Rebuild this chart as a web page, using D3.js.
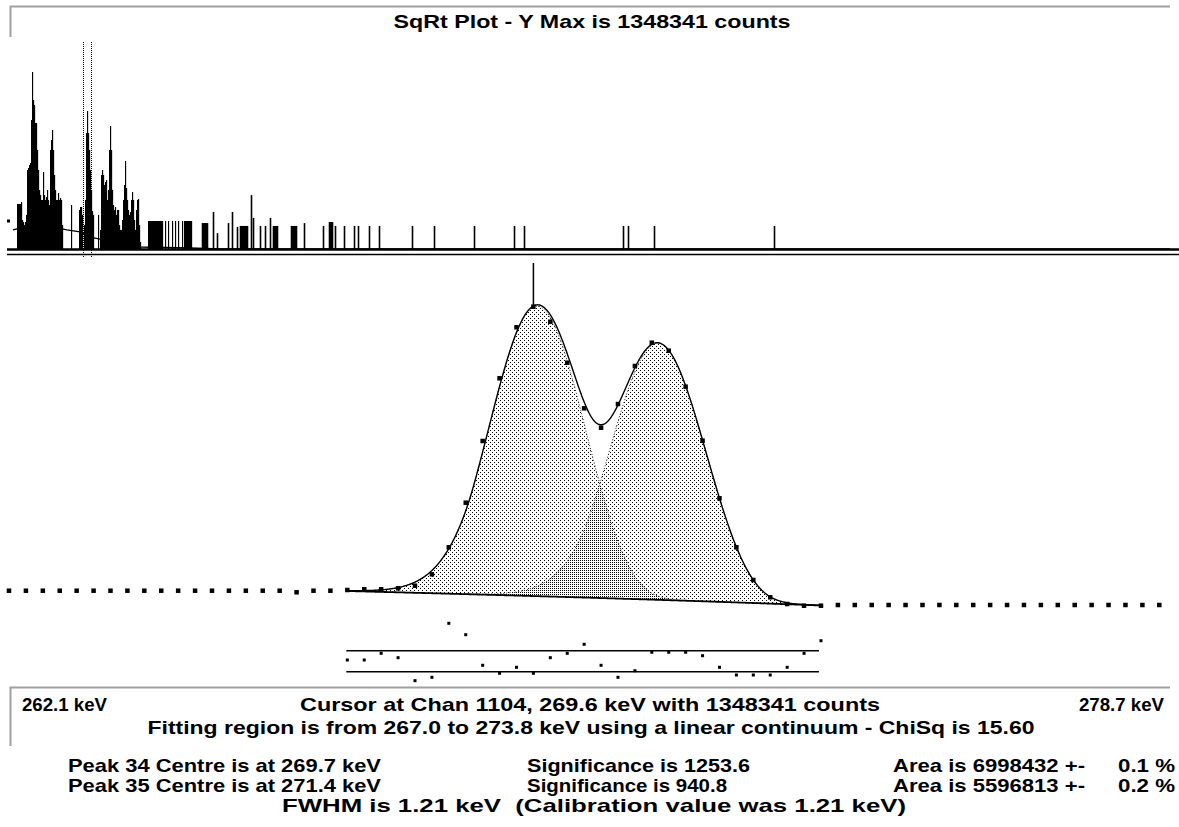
<!DOCTYPE html>
<html><head><meta charset="utf-8">
<script src="https://cdn.jsdelivr.net/npm/d3@7"></script>
<style>
html,body{margin:0;padding:0;background:#fff;}
svg{display:block;}
text{font-family:"Liberation Sans",Arial,sans-serif;font-weight:bold;fill:#000;white-space:pre;}
</style></head><body>
<svg id="c" width="1179" height="827"></svg>
<script>
// ================= DATA =================
const yMaxCounts = 1348341;
const axisKeV = [262.1, 278.7];
const keVPerChan = 0.2442;
const chanStart = 1073;
const cursorChan = 1104;
const cursorKeV = 269.6;
// counts per channel (main window), channels 1073..1141
const counts = [
  24550,24550,24550,24550,24550,24550,24550,24550,24550,24550,
  24550,24550,24550,24550,24550,24550,24550,22810,24550,24550,
  25330,26130,26130,27280,30400,46090,96220,218960,470830,824340,
  1184400,1348341,1227900,927600,642900,537600,667500,905200,1068800,1011200,
  771300,472300,233800,96220,37840,17780,12020,10740,10740,11260,
  11260,11260,11260,11260,11260,11260,11260,11260,11260,11260,
  11260,11260,11260,11260,11260,11260,11260,11260,11260
];
// fit
const fitRange = [1093, 1121];           // channels
const fitRangeKeV = [267.0, 273.8];
const fitCentresKeV = [269.65, 271.39];
const fitFwhmKeV = 1.19;                 // as drawn
const fitTail = 1.8;                     // low-energy tail junction (sigma units)
const fitHeights = [1334000, 1049700];
const contEnds = [24200, 10900];
const peakIds = [34, 35];
const peakCentreText = ["269.7", "271.4"];
const significance = ["1253.6", "940.8"];
const areas = [6998432, 5596813];
const areaErr = ["0.1", "0.2"];
const fwhmText = "1.21";
const calibFwhm = "1.21";
const chiSq = "15.60";
// residuals (in sigma), channels 1093..1121
const residuals = [0.23,0.23,1.5,0.67,-3.71,-3.07,7.22,5.05,-0.78,-2.3,-1.16,-2.3,0.67,1.5,3.22,
  -0.78,-3.07,-1.81,1.7,1.7,1.7,1.05,-1.16,-2.63,-2.63,-2.63,-1.16,1.5,3.9];
const residualLimits = [-2, 2];

// overview spectrum (thousands of counts per display bin)
const ovRangeKeV = [75, 2700];
const ovMaxK = 2240;
const ovStartKeV = 92.95;
const ovBinKeV = 2.2436;
const ovTops = [0,0,0,0,0,0,0,0,0,
145,145,145,145,158,60,52,41,52,83,
446,469,504,529,1190,2240,1587,1483,1135,1135,
701,446,249,208,172,172,424,208,172,193,
249,172,138,701,849,1012,701,392,249,172,
172,224,172,186,172,41,0,0,0,0,
0,0,0,0,138,0,0,0,0,0,
0,0,109,126,126,83,0,41,172,962,
1362,962,701,446,249,103,83,0,0,0,
0,83,0,26,392,446,392,293,321,340,
172,249,701,1082,701,249,138,109,126,83,
109,109,41,26,26,60,172,293,554,266,
172,109,83,98,172,232,172,60,26,109,
172,179,41,3.5,0,0,0,0,0,0,
0,56,56,56,56,56,56,56,56,56,
56,56,56,56,56,56,0,0,56,0,
0,56,0,0,0,56,0,0,56,0,
0,56,0,0,0,56,0,56,56,56,
56,56,56,56,56,0,0,0,0,0,
0,0,0,0];
const ovContKeV = [104.2,131.1,202.9,225.3,254.5,276.9,299.4,344.2,389.1,501.3,568.6,2700];
const ovContK   = [26,34.6,32,26,21,10,7,2.6,0.29,0.07,0,0];
const ovMarkerKeV = [528.2,530.5,532.7,535.0,537.2,539.4,552.9,561.9,586.5,595.5,606.7,
  613.5,615.7,618.0,620.2,622.5,624.7,627.0,629.2,638.1,642.6,658.3,669.6,680.8,
  687.5,689.8,692.0,694.3,696.5,727.9,730.1,732.3,734.6,736.8,739.1,757.1,799.7,
  813.1,815.4,817.6,819.9,826.6,846.8,869.2,878.2,902.9,925.3,999.4,1048.7,1138.5,
  1228.2,1250.6,1472.8,1484.0,1542.3,1811.5];
const ovMarkerK = [48,48,48,48,48,48,98,18,48,98,35,
  38,38,38,38,38,38,38,38,208,69,38,38,69,
  38,38,38,38,38,38,38,38,38,38,38,48,38,
  52,52,52,52,38,38,38,38,38,38,38,38,38,
  38,38,38,38,38,38];

// ================= DRAW =================
const svg = d3.select("#c");
const defs = svg.append("defs");
function pat(id, pts){
  const p = defs.append("pattern").attr("id",id).attr("width",4).attr("height",4)
    .attr("patternUnits","userSpaceOnUse");
  pts.forEach(([a,b])=>p.append("rect").attr("x",a).attr("y",b).attr("width",1).attr("height",1).attr("fill","#000"));
}
pat("pA", [[0,0],[2,2]]);
pat("pB", [[2,0],[0,2]]);

// frames
svg.append("path").attr("d","M10.5,37 V6.5 H1170").attr("fill","none").attr("stroke","#a0a0a0").attr("stroke-width",2);
svg.append("path").attr("d","M10.5,746 V687.5 H1170").attr("fill","none").attr("stroke","#a0a0a0").attr("stroke-width",2);

// ---- overview panel ----
const xo = d3.scaleLinear().domain(ovRangeKeV).range([0, 1170]);
const yo = d3.scaleSqrt().domain([0, ovMaxK]).range([249, 72]);
const gO = svg.append("g");
gO.selectAll("rect.bar").data(ovTops.map((v,i)=>({e:ovStartKeV+i*ovBinKeV, v})).filter(d=>d.v>0))
  .enter().append("rect")
  .attr("x", d=>xo(d.e)).attr("width", d=>xo(d.e+ovBinKeV)-xo(d.e)+0.15)
  .attr("y", d=>yo(d.v)).attr("height", d=>yo(0)-yo(d.v)).attr("fill","#000");
gO.selectAll("line.mk").data(ovMarkerKeV.map((e,i)=>({e, v:ovMarkerK[i]})))
  .enter().append("line")
  .attr("x1", d=>Math.round(xo(d.e))+0.5).attr("x2", d=>Math.round(xo(d.e))+0.5)
  .attr("y1", yo(0)).attr("y2", d=>yo(d.v)).attr("stroke","#000").attr("stroke-width",1.6);
gO.append("path").datum(ovContKeV.map((e,i)=>[e, ovContK[i]]))
  .attr("d", d3.line().x(d=>xo(d[0])).y(d=>yo(d[1])))
  .attr("fill","none").attr("stroke","#000").attr("stroke-width",1.3);
gO.append("rect").attr("x",xo(ovContKeV[0])-6).attr("y",yo(56)-1.5).attr("width",3).attr("height",3).attr("fill","#000");
axisKeV.forEach(e=>{
  gO.append("line").attr("x1",Math.round(xo(e))+0.5).attr("x2",Math.round(xo(e))+0.5)
    .attr("y1",42).attr("y2",257).attr("stroke","#000").attr("stroke-width",1).attr("stroke-dasharray","1,1");
});
svg.append("line").attr("x1",7).attr("x2",1179).attr("y1",249.5).attr("y2",249.5).attr("stroke","#000").attr("stroke-width",2.6);
svg.append("line").attr("x1",7).attr("x2",1179).attr("y1",254.5).attr("y2",254.5).attr("stroke","#000").attr("stroke-width",1.6);

// ---- main panel ----
const x = d3.scaleLinear().domain([chanStart, chanStart + counts.length - 1]).range([9, 1159.3]);
const y = d3.scaleSqrt().domain([0, yMaxCounts]).range([635, 306.7]);
const sigma = fitFwhmKeV / keVPerChan / 2.3548;
const centres = fitCentresKeV.map(e => e / keVPerChan);
const cont = ch => contEnds[0] + (ch - fitRange[0]) / (fitRange[1] - fitRange[0]) * (contEnds[1] - contEnds[0]);
const gauss = (k, ch) => {
  const d = (ch - centres[k]) / sigma;
  return d < -fitTail
    ? fitHeights[k] * Math.exp(fitTail * fitTail / 2 + fitTail * d)
    : fitHeights[k] * Math.exp(-0.5 * d * d);
};
const chs = d3.range(fitRange[0], fitRange[1] + 0.001, 0.05);
const gM = svg.append("g");
[0,1].forEach(k=>{
  gM.append("path").datum(chs)
    .attr("d", d3.area().x(c=>x(c)).y0(c=>y(cont(c))).y1(c=>y(cont(c)+gauss(k,c))))
    .attr("fill", k===0 ? "url(#pA)" : "url(#pB)");
});
[0,1].forEach(k=>{
  gM.append("path").datum(chs)
    .attr("d", d3.line().x(c=>x(c)).y(c=>y(cont(c)+gauss(k,c))))
    .attr("fill","none").attr("stroke","#000").attr("stroke-width",0.9).attr("stroke-dasharray","1,2");
});
gM.append("path").datum(chs).attr("d", d3.line().x(c=>x(c)).y(c=>y(cont(c))))
  .attr("fill","none").attr("stroke","#000").attr("stroke-width",1.8);
gM.append("path").datum(chs).attr("d", d3.line().x(c=>x(c)).y(c=>y(cont(c)+gauss(0,c)+gauss(1,c))))
  .attr("fill","none").attr("stroke","#000").attr("stroke-width",1.4);
// cursor
gM.append("line").attr("x1",x(cursorChan)).attr("x2",x(cursorChan))
  .attr("y1",263).attr("y2",y(counts[cursorChan-chanStart])).attr("stroke","#000").attr("stroke-width",1.5);
// data dots
gM.selectAll("rect.pt").data(counts).enter().append("rect")
  .attr("x",(d,i)=>x(chanStart+i)-2.25).attr("y",d=>y(d)-2.25)
  .attr("width",4.5).attr("height",4.5).attr("fill","#000");

// residuals
const r = d3.scaleLinear().domain(residualLimits).range([671.7, 650.7]);
residualLimits.forEach(v=>{
  gM.append("line").attr("x1",x(fitRange[0])-1).attr("x2",x(fitRange[1])-2)
    .attr("y1",r(v)).attr("y2",r(v)).attr("stroke","#000").attr("stroke-width",1.6);
});
gM.selectAll("rect.res").data(residuals).enter().append("rect")
  .attr("x",(d,i)=>x(fitRange[0]+i)-1.5).attr("y",d=>r(d)-1.5)
  .attr("width",3).attr("height",3).attr("fill","#000");

// ---- texts ----
function txt(s, tx, ty, anchor, len){
  const t = svg.append("text").attr("x",tx).attr("y",ty).attr("text-anchor",anchor)
    .attr("font-size",19).text(s);
  if(len){ t.attr("textLength",len).attr("lengthAdjust","spacingAndGlyphs"); }
  return t;
}
txt(`SqRt Plot - Y Max is ${yMaxCounts} counts`, 592, 28, "middle", 397);
txt(`${axisKeV[0].toFixed(1)} keV`, 22, 711, "start", 85);
txt(`Cursor at Chan ${cursorChan}, ${cursorKeV.toFixed(1)} keV with ${counts[cursorChan-chanStart]} counts`, 590, 711, "middle", 580);
txt(`${axisKeV[1].toFixed(1)} keV`, 1164, 711, "end", 85);
txt(`Fitting region is from ${fitRangeKeV[0].toFixed(1)} to ${fitRangeKeV[1].toFixed(1)} keV using a linear continuum - ChiSq is ${chiSq}`, 591, 734, "middle", 887);
[0,1].forEach(k=>{
  const yy = 772 + k*20;
  txt(`Peak ${peakIds[k]} Centre is at ${peakCentreText[k]} keV`, 68, yy, "start", 313);
  txt(`Significance is ${significance[k]}`, 527, yy, "start", k===0?223:200);
  txt(`Area is ${areas[k]} +-`, 893, yy, "start", 192);
  txt(`${areaErr[k]} %`, 1175, yy, "end", 57);
});
txt(`FWHM is ${fwhmText} keV  (Calibration value was ${calibFwhm} keV)`, 594, 812, "middle", 624);
</script>
</body></html>
